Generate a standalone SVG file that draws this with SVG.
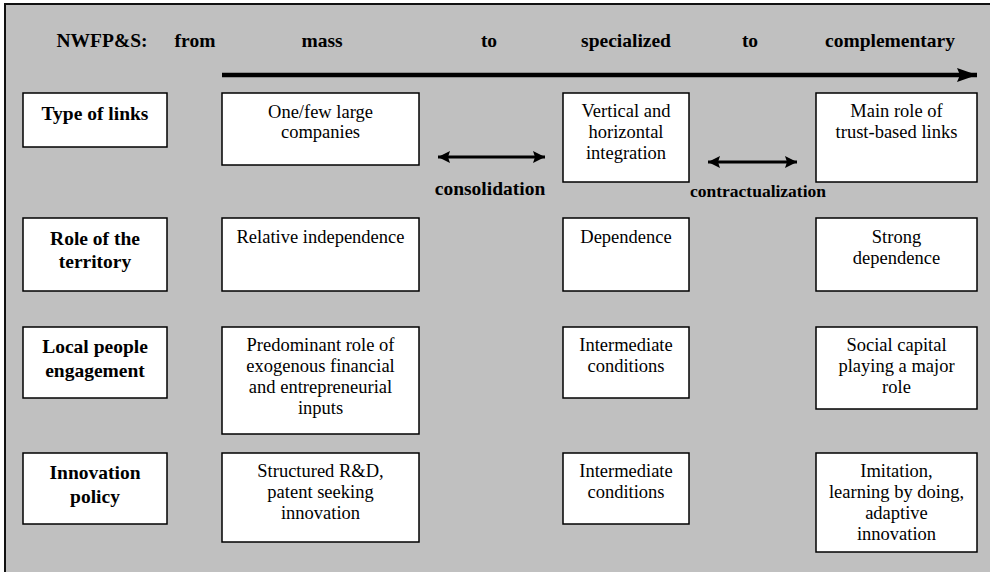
<svg xmlns="http://www.w3.org/2000/svg" width="990" height="572" viewBox="0 0 990 572">
<style>
.box{fill:#fff;stroke:#000;stroke-width:1.5}
text{font-family:'Liberation Serif','Tinos','DejaVu Serif','Times New Roman',serif;fill:#000;text-anchor:middle}
.b{font-weight:bold;font-size:19.5px}
.t{font-weight:normal;font-size:18.5px}
.conn{stroke:#000;fill:none}
</style>
<defs>
<marker id="bigHead" viewBox="0 0 20 14" refX="20" refY="7" markerWidth="20" markerHeight="14" markerUnits="userSpaceOnUse" orient="auto">
<path d="M0,0 L20,7 L0,14 L3,7 Z" fill="#000"/>
</marker>
<marker id="smallHead" viewBox="0 0 12 12" refX="12" refY="6" markerWidth="12" markerHeight="12" markerUnits="userSpaceOnUse" orient="auto-start-reverse">
<path d="M0,0 L12,6 L0,12 L2,6 Z" fill="#000"/>
</marker>
</defs>
<rect x="5" y="4" width="1000" height="600" fill="#c0c0c0" stroke="#111" stroke-width="2"/>
<g id="header">
<text class="b" x="102" y="47">NWFP&amp;S:</text>
<text class="b" x="195" y="47">from</text>
<text class="b" x="322" y="47">mass</text>
<text class="b" x="489" y="47">to</text>
<text class="b" x="626" y="47">specialized</text>
<text class="b" x="750" y="47">to</text>
<text class="b" x="890" y="47">complementary</text>
</g>
<g id="connectors">
<line class="conn" x1="222" y1="75" x2="977" y2="75" stroke-width="4.5" marker-end="url(#bigHead)"/>
<line class="conn" x1="438" y1="157" x2="545" y2="157" stroke-width="3" marker-start="url(#smallHead)" marker-end="url(#smallHead)"/>
<line class="conn" x1="708" y1="162" x2="797" y2="162" stroke-width="3" marker-start="url(#smallHead)" marker-end="url(#smallHead)"/>
<text class="b" x="490" y="195">consolidation</text>
<text class="b" x="758" y="197" style="font-size:17.5px">contractualization</text>
</g>
<g id="label-type-of-links">
<rect class="box" x="23" y="93" width="144" height="54"/>
<text class="b" x="95" y="120">Type of links</text>
</g>
<g id="mass-links">
<rect class="box" x="222" y="93" width="197" height="72"/>
<text class="t" x="320.5" y="118">One/few large</text>
<text class="t" x="320.5" y="138">companies</text>
</g>
<g id="specialized-links">
<rect class="box" x="563" y="93" width="126" height="89"/>
<text class="t" x="626" y="117">Vertical and</text>
<text class="t" x="626" y="138">horizontal</text>
<text class="t" x="626" y="159">integration</text>
</g>
<g id="complementary-links">
<rect class="box" x="816" y="93" width="161" height="89"/>
<text class="t" x="896.5" y="117">Main role of</text>
<text class="t" x="896.5" y="138">trust-based links</text>
</g>
<g id="label-role-territory">
<rect class="box" x="23" y="218" width="144" height="73"/>
<text class="b" x="95" y="245">Role of the</text>
<text class="b" x="95" y="268">territory</text>
</g>
<g id="mass-territory">
<rect class="box" x="222" y="218" width="197" height="73"/>
<text class="t" x="320.5" y="243">Relative independence</text>
</g>
<g id="specialized-territory">
<rect class="box" x="563" y="218" width="126" height="73"/>
<text class="t" x="626" y="243">Dependence</text>
</g>
<g id="complementary-territory">
<rect class="box" x="816" y="218" width="161" height="73"/>
<text class="t" x="896.5" y="243">Strong</text>
<text class="t" x="896.5" y="264">dependence</text>
</g>
<g id="label-local-people">
<rect class="box" x="23" y="327" width="144" height="71"/>
<text class="b" x="95" y="353">Local people</text>
<text class="b" x="95" y="377">engagement</text>
</g>
<g id="mass-local">
<rect class="box" x="222" y="327" width="197" height="107"/>
<text class="t" x="320.5" y="351">Predominant role of</text>
<text class="t" x="320.5" y="372">exogenous financial</text>
<text class="t" x="320.5" y="393">and entrepreneurial</text>
<text class="t" x="320.5" y="414">inputs</text>
</g>
<g id="specialized-local">
<rect class="box" x="563" y="327" width="126" height="71"/>
<text class="t" x="626" y="351">Intermediate</text>
<text class="t" x="626" y="372">conditions</text>
</g>
<g id="complementary-local">
<rect class="box" x="816" y="327" width="161" height="82"/>
<text class="t" x="896.5" y="351">Social capital</text>
<text class="t" x="896.5" y="372">playing a major</text>
<text class="t" x="896.5" y="393">role</text>
</g>
<g id="label-innovation">
<rect class="box" x="23" y="453" width="144" height="71"/>
<text class="b" x="95" y="479">Innovation</text>
<text class="b" x="95" y="503">policy</text>
</g>
<g id="mass-innovation">
<rect class="box" x="222" y="453" width="197" height="89"/>
<text class="t" x="320.5" y="477">Structured R&amp;D,</text>
<text class="t" x="320.5" y="498">patent seeking</text>
<text class="t" x="320.5" y="519">innovation</text>
</g>
<g id="specialized-innovation">
<rect class="box" x="563" y="453" width="126" height="71"/>
<text class="t" x="626" y="477">Intermediate</text>
<text class="t" x="626" y="498">conditions</text>
</g>
<g id="complementary-innovation">
<rect class="box" x="816" y="453" width="161" height="99"/>
<text class="t" x="896.5" y="477">Imitation,</text>
<text class="t" x="896.5" y="498">learning by doing,</text>
<text class="t" x="896.5" y="519">adaptive</text>
<text class="t" x="896.5" y="540">innovation</text>
</g>
</svg>
